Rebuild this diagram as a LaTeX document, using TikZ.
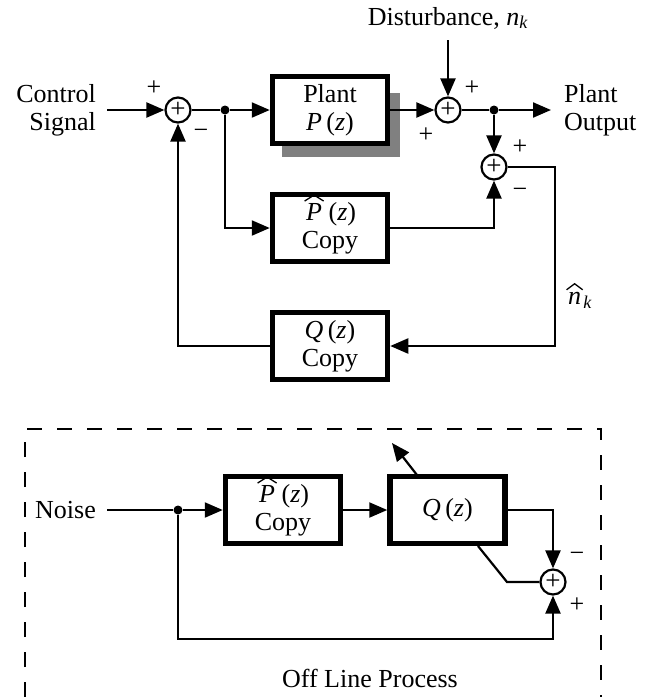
\documentclass[tikz,border=0pt]{standalone}
\usepackage{fontspec}
\setmainfont{Liberation Serif}
\usetikzlibrary{arrows.meta}
\newcommand{\hatmark}[2]{\leavevmode\smash{\vbox{\offinterlineskip\halign{\hfil##\hfil\cr
  \tikz[x=1pt,y=1pt]\draw[line width=1.3pt, line join=miter] (0,0) -- (#2/2,6) -- (#2,0);\cr
  \noalign{\kern1.5pt}#1\cr}}}\vphantom{#1}}
\newcommand{\PhatZ}{\hatmark{\textit{P}}{19}\,(\textit{z})}
\newcommand{\nk}{\textit{n}$_{\hbox{\fontsize{18}{18}\selectfont\textit{k}}}$}
\newcommand{\nhatk}{\hatmark{\textit{n}}{16}$_{\hbox{\fontsize{18}{18}\selectfont\textit{k}}}$}
\begin{document}
\begin{tikzpicture}[x=1pt,y=-1pt,
  font=\fontsize{26}{28}\selectfont,
  wire/.style={line width=2.2pt},
  arr/.style={line width=2.2pt,-{Triangle[length=18pt,width=15pt]}},
  blk/.style={draw, line width=5.5pt, fill=white, minimum width=115pt, minimum height=67pt, align=center, inner sep=0pt},
  sumc/.style={circle, draw, line width=2.2pt, minimum size=25pt, inner sep=0pt, fill=white, font=\fontsize{27}{27}\selectfont},
  sgn/.style={font=\fontsize{26}{26}\selectfont, inner sep=0pt},
  jdot/.style={circle, fill, inner sep=0pt, minimum size=9pt},
  lbl/.style={inner sep=0pt},
  dsh/.style={line width=2.4pt, dash pattern=on 15pt off 15pt}]
\useasboundingbox (0,0) rectangle (651,697);

% ---------- top loop ----------
\node[lbl, align=right, anchor=east] (ctrl) at (96,110) {Control\\Signal};
\coordinate (cin) at (107,110);
\node[sumc] (s1) at (178,110) {+};
\node[jdot] (j1) at (225,110) {};
\fill[black!50] (282,93) rectangle (400,157);
\node[blk] (plant) at (330,110) {Plant\\\textit{P}\,(\textit{z})};
\node[blk] (phat) at (330,228) {\PhatZ\\Copy};
\node[blk] (qc) at (330,346) {\textit{Q}\,(\textit{z})\\Copy};
\node[sumc] (s2) at (448,110) {+};
\node[jdot] (j2) at (494,110) {};
\node[sumc] (s3) at (494,167) {+};
\node[lbl] (dist) at (448,18) {Disturbance, \nk};
\coordinate (din) at (448,40);
\coordinate (pout) at (551,110);
\node[lbl, align=left, anchor=west] (po) at (564,110) {Plant\\Output};
\coordinate (rc) at (555,167);
\node[lbl] (nh) at (579,300) {\nhatk};

\draw[arr] (cin) -- (s1);
\draw[wire] (s1) -- (j1);
\draw[arr] (j1) -- (plant);
\draw[arr] (j1) |- (phat);
\draw[arr] (plant) -- (s2);
\draw[arr] (din) -- (s2);
\draw[wire] (s2) -- (j2);
\draw[arr] (j2) -- (pout);
\draw[arr] (j2) -- (s3);
\draw[arr] (phat.east) -| (s3.south);
\draw[arr] (s3.east) -- (rc) |- (qc.east);
\draw[arr] (qc.west) -| (s1.south);

\node[sgn] at (154,88) {+};
\node[sgn] at (201,134) {−};
\node[sgn] at (426,135) {+};
\node[sgn] at (472,88) {+};
\node[sgn] at (520,147) {+};
\node[sgn] at (520,193) {−};

% ---------- off line process ----------
\draw[dsh] (25,697) -- (25,429) -- (601,429) -- (601,697);
\node[lbl, anchor=east] (noise) at (96,510) {Noise};
\coordinate (nin) at (107,510);
\node[jdot] (j3) at (178,510) {};
\node[blk] (phat2) at (283,510) {\PhatZ\\Copy};
\node[blk] (q2) at (447.5,510) {\textit{Q}\,(\textit{z})};
\node[sumc] (s4) at (553,582) {+};
\coordinate (adS) at (417,475);
\coordinate (adE) at (392,443);
\coordinate (dg1) at (478,546);
\coordinate (dg2) at (507,582);
\coordinate (bl) at (178,639);

\draw[wire] (nin) -- (j3);
\draw[arr] (j3) -- (phat2);
\draw[arr] (phat2) -- (q2);
\draw[arr] (q2.east) -| (s4.north);
\draw[wire] (dg1) -- (dg2) -- (s4.west);
\draw[arr] (j3) -- (bl) -| (s4.south);
\draw[arr] (adS) -- (adE);

\node[sgn] at (577,557) {−};
\node[sgn] at (577,605) {+};
\node[lbl] (olp) at (370,678) {Off Line Process};
\end{tikzpicture}
\end{document}
